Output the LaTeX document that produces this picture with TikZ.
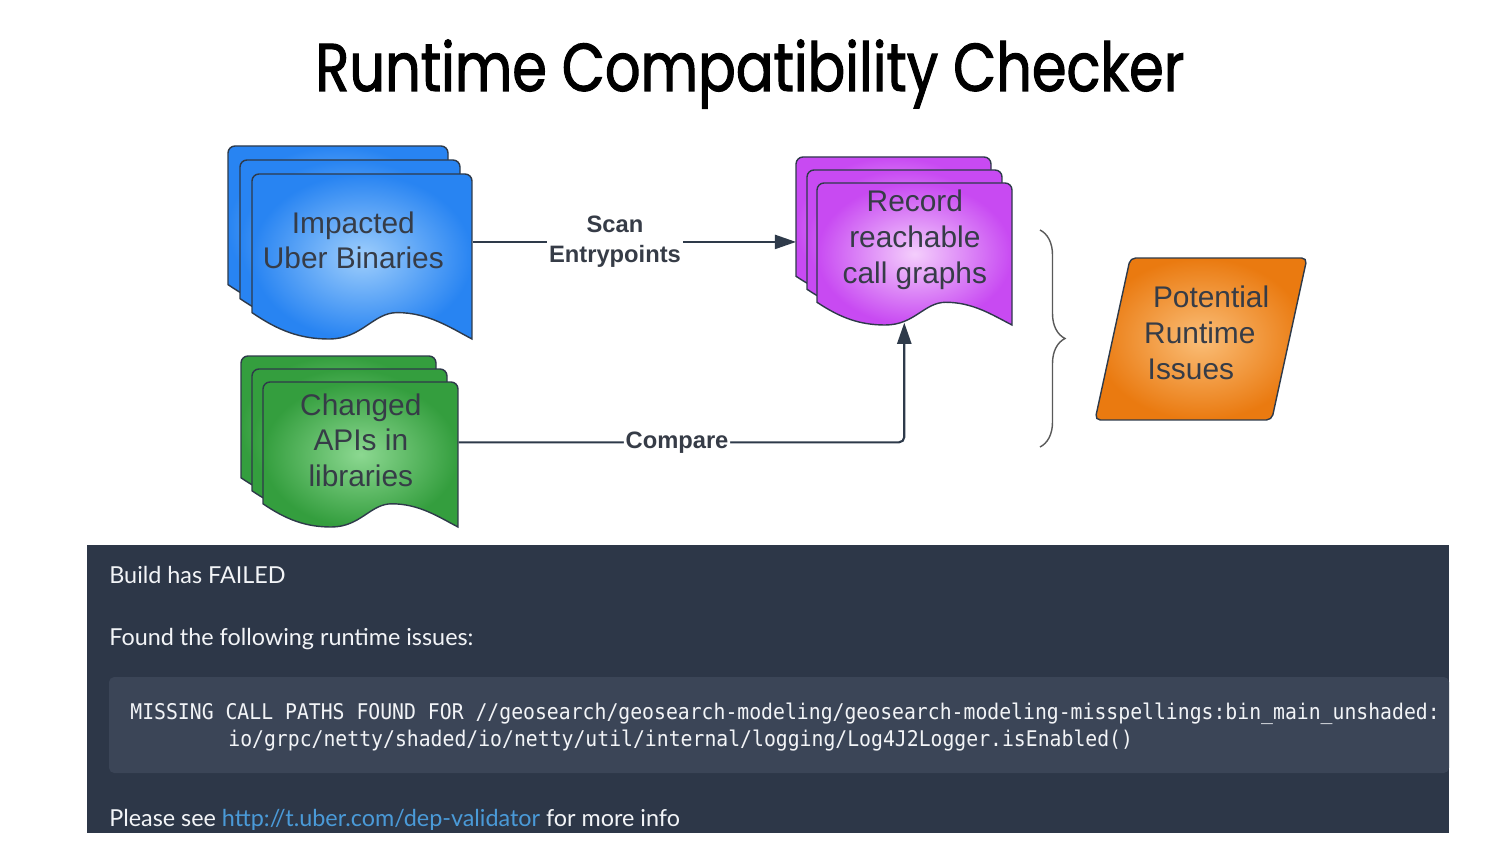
\documentclass[tikz,border=0pt]{standalone}
\usepackage{fontspec}
\setmainfont{Liberation Sans}
\newfontfamily\titlefont[FakeStretch=0.825,FakeBold=1.5]{Poppins}
\newfontfamily\panelfont{Lato}
\newfontfamily\codefont[FakeStretch=0.915]{DejaVu Sans Mono}
\usetikzlibrary{positioning,calc,arrows.meta,shapes.geometric,decorations.pathreplacing}

\definecolor{ink}{HTML}{363C47}
\definecolor{pageedge}{HTML}{2E3A4A}
\definecolor{panelbg}{HTML}{2D3748}
\definecolor{codebg}{HTML}{3B4557}
\definecolor{panelfg}{HTML}{F2F4F7}
\definecolor{linkblue}{HTML}{4A9AD8}

\begin{document}
\begin{tikzpicture}[x=0.02cm,y=-0.02cm,
  pics/page/.style n args={3}{code={
    \path[draw=pageedge,line width=0.8pt,#3]
      (0,{0.84*#2}) [rounded corners=4pt] -- (0,0) -- (#1,0) [sharp corners] -- (#1,#2)
      .. controls ({0.9*#1},{0.93*#2}) and ({0.8*#1},{0.84*#2}) .. ({0.66*#1},{0.84*#2})
      .. controls ({0.55*#1},{0.84*#2}) and ({0.5*#1},#2) .. ({0.35*#1},#2)
      .. controls ({0.22*#1},#2) and ({0.12*#1},{0.95*#2}) .. cycle;
    \node[inner sep=0,minimum width={#1*0.02cm},minimum height={#2*0.02cm},anchor=north west] (-box) at (0,0) {};
  }},
  bluefill/.style={shade,shading=radial,inner color={rgb,255:red,158;green,206;blue,252},outer color={rgb,255:red,40;green,132;blue,242}},
  greenfill/.style={shade,shading=radial,inner color={rgb,255:red,140;green,216;blue,145},outer color={rgb,255:red,52;green,158;blue,62}},
  purplefill/.style={shade,shading=radial,inner color={rgb,255:red,244;green,206;blue,252},outer color={rgb,255:red,200;green,74;blue,242}},
  doctext/.style={align=center,text=ink,font=\fontsize{17}{20.4}\selectfont},
  flow/.style={-{Triangle[length=12pt,width=8pt]},line width=1.2pt,draw=pageedge},
  edgelab/.style={fill=white,inner sep=1pt,align=center,text=ink,font=\bfseries\fontsize{13.5}{17}\selectfont},
  outcome/.style={trapezium,trapezium left angle=76,trapezium right angle=104,trapezium stretches=true,
    minimum width=4.24cm,minimum height=3.24cm,draw=pageedge,line width=0.8pt,rounded corners=3pt,
    shade,shading=radial,inner color={rgb,255:red,250;green,190;blue,120},outer color={rgb,255:red,234;green,122;blue,16}},
  paneltext/.style={anchor=base west,inner sep=0,text=panelfg,font=\panelfont\fontsize{13.3}{15}\selectfont},
  codetext/.style={anchor=base west,inner sep=0,text=panelfg,font=\codefont\fontsize{12.3}{15}\selectfont},
]
\useasboundingbox (0,0) rectangle (1500,844);

% Title
\node[anchor=base,inner sep=0,font=\titlefont\fontsize{38.5}{44}\selectfont] (title) at (750,91) {Runtime Compatibility Checker};

% Impacted binaries
\pic (binback) at (228,146) {page={220}{165}{bluefill}};
\pic (binmid) at (240,160) {page={220}{165}{bluefill}};
\pic (bin) at (252,174) {page={220}{165}{bluefill}};
\node[doctext,xshift=-0.18cm] (bintxt) at ($(bin-box.north)!0.4!(bin-box.south)$) {Impacted\\Uber Binaries};

% Changed APIs
\pic (apiback) at (241,356) {page={195}{145}{greenfill}};
\pic (apimid) at (252,369) {page={195}{145}{greenfill}};
\pic (api) at (263,382) {page={195}{145}{greenfill}};
\node[doctext] (apitxt) at ($(api-box.north)!0.4!(api-box.south)$) {Changed\\APIs in\\libraries};

% Call graphs
\pic (callsback) at (796,157) {page={195}{142}{purplefill}};
\pic (callsmid) at (807,170) {page={195}{142}{purplefill}};
\pic (calls) at (817,183) {page={195}{142}{purplefill}};
\node[doctext] (callstxt) at ($(calls-box.north)!0.4!(calls-box.south)$) {Record\\reachable\\call graphs};

% Scan
\coordinate (scanstart) at ($(bin-box.north east)!0.41!(bin-box.south east)$);
\draw[flow] (scanstart) -- node[edgelab,pos=0.44] (scanlab) {Scan\\Entrypoints} (scanstart -| callsback-box.west);

% Compare
\coordinate (cmpstart) at ($(api-box.north east)!0.414!(api-box.south east)$);
\coordinate (cmpend) at ($(calls-box.south west)!0.446!(calls-box.south east)+(0,-3)$);
\draw[flow,rounded corners=3pt] (cmpstart) -| node[edgelab,pos=0.245] (cmplab) {Compare} (cmpend);

% Brace and result
\draw[decorate,decoration={brace,amplitude=0.5cm},line width=0.8pt,draw=gray!70!black] (1040,230) -- (1040,447);
\node[outcome] (issues) at (1201,339) {};
\node[doctext,align=left,anchor=west] (issuestxt) at (1138,333) {\hspace*{5pt}Potential\\Runtime\\\hspace*{2pt}Issues};

% Build output
\fill[panelbg] (87,545) rectangle (1449,833);
\fill[codebg,rounded corners=3pt] (109,677) rectangle (1449,773);
\node[paneltext] (status) at (109,583) {Build has FAILED};
\node[paneltext] (found) at (109,645) {Found the following runtime issues:};
\node[codetext] (missing) at (130,719) {MISSING CALL PATHS FOUND FOR //geosearch/geosearch-modeling/geosearch-modeling-misspellings:bin\_main\_unshaded:};
\node[codetext] (method) at (228,746) {io/grpc/netty/shaded/io/netty/util/internal/logging/Log4J2Logger.isEnabled()};
\node[paneltext] (seemore) at (109,826) {Please see \textcolor{linkblue}{http://t.uber.com/dep-validator} for more info};

\end{tikzpicture}
\end{document}
